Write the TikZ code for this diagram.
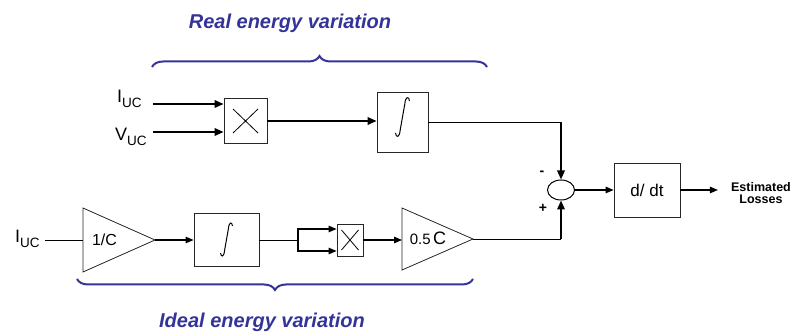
\documentclass[tikz,border=0pt]{standalone}
\usepackage{fontspec}
\setmainfont{Liberation Sans}
\usetikzlibrary{arrows.meta,decorations.pathreplacing,shapes.geometric}
\definecolor{navy}{HTML}{333399}
\newcommand{\lowsub}[1]{\raisebox{-5pt}{\fontsize{13.5}{13.5}\selectfont #1}}
\begin{document}
\begin{tikzpicture}[x=1pt,y=-1pt,
  blk/.style={draw=black!85, line width=0.8pt, fill=white, inner sep=0pt},
  thk/.style={line width=1.8pt, -{Triangle[length=9pt,width=7.5pt]}},
  med/.style={line width=1.2pt, -{Triangle[length=8pt,width=6.5pt]}},
  thn/.style={line width=0.8pt},
  lbl/.style={font=\fontsize{18}{18}\selectfont, inner sep=0pt},
  ttl/.style={font=\fontsize{20}{20}\selectfont\bfseries\itshape, text=navy, inner sep=0pt},
  brc/.style={draw=navy, line width=2pt, decorate, decoration={brace, amplitude=11pt}},
  intsign/.pic={\draw[line width=1pt] (7,-16) .. controls (6.5,-21) and (3,-21) .. (2.3,-13) -- (-2.3,13) .. controls (-3,21) and (-6.5,21) .. (-7,16);}
]
\useasboundingbox (0,0) rectangle (792,336);

% titles and braces
\node[ttl, anchor=base] (t1) at (290,29) {Real energy variation};
\node[ttl, anchor=base] (t2) at (262,328) {Ideal energy variation};
\draw[brc] (152,67) -- (487,67);
\draw[brc] (473,279) -- (77,279);

% upper chain
\node[lbl, anchor=base west] (iuc1) at (117,103) {I\lowsub{UC}};
\node[lbl, anchor=base west] (vuc1) at (115,141) {V\lowsub{UC}};
\coordinate (a1) at (153,104);
\coordinate (a2) at (153,132);
\node[blk, minimum width=43pt, minimum height=45pt] (mul1) at (245.5,121) {};
\draw[line width=0.8pt] (mul1.center) ++(-12.5,-12) -- ++(25,24) ++(0,-24) -- ++(-25,24);
\node[blk, minimum width=51pt, minimum height=60pt] (int1) at (402.5,122) {};
\pic at ([yshift=5pt]int1.center) {intsign};
\draw[thk] (a1) -- (a1 -| mul1.west);
\draw[thk] (a2) -- (a2 -| mul1.west);
\draw[thk] (mul1.east) -- (mul1.east -| int1.west);

% summing junction and output
\node[draw, line width=1pt, ellipse, minimum width=27pt, minimum height=20pt, inner sep=0pt] (sum) at (561,190) {};
\coordinate (c1) at (sum.north |- int1.east);
\draw[thn] (int1.east) -- (c1);
\draw[thk] (c1) -- (sum.north);
\node[font=\fontsize{14}{14}\selectfont\bfseries, inner sep=0pt] (minus) at (542,173) {-};
\node[font=\fontsize{14}{14}\selectfont\bfseries, inner sep=0pt] (plus) at (543,208) {+};
\node[blk, minimum width=66pt, minimum height=54pt, font=\fontsize{17}{17}\selectfont] (ddt) at (647,190) {d/ dt};
\node[font=\fontsize{12.5}{11.5}\selectfont\bfseries, align=center, inner sep=0pt] (out) at (761,193) {Estimated\\Losses};
\draw[med] (sum.east) -- (sum.east -| ddt.west);
\draw[med, shorten >=13pt] (ddt.east) -- (ddt.east -| out.west);

% lower chain
\node[lbl, anchor=base west] (iuc2) at (15,243) {I\lowsub{UC}};
\coordinate (g1in) at (83,240);
\coordinate (g1out) at (155,240);
\draw[line width=0.8pt, draw=black!85] (83,208) -- (g1out) -- (83,272) -- cycle;
\node[font=\fontsize{16}{16}\selectfont, inner sep=0pt] (g1lbl) at (104.5,240) {1/C};
\draw[thn] ([xshift=5pt]iuc2.east |- g1in) -- (g1in);
\node[blk, minimum width=65pt, minimum height=53pt] (int2) at (226.5,239.5) {};
\pic[scale=0.85] at (int2.center) {intsign};
\draw[med] (g1out) -- (g1out -| int2.west);
\coordinate (sp) at (298,240);
\node[blk, minimum width=26pt, minimum height=32pt] (mul2) at (350,240) {};
\draw[line width=0.8pt] (mul2.center) ++(-8.5,-10) -- ++(17,20) ++(0,-20) -- ++(-17,20);
\draw[thn] (int2.east |- sp) -- (sp);
\draw[med] (sp) |- ([yshift=11pt]mul2.west);
\draw[med] (sp) |- ([yshift=-11pt]mul2.west);
\coordinate (g2in) at (402,239);
\coordinate (g2out) at (473,239);
\draw[line width=0.8pt, draw=black!85] (402,208) -- (g2out) -- (402,270) -- cycle;
\node[inner sep=0pt, anchor=base] (g2lbl) at (428,245) {\fontsize{15}{15}\selectfont 0.5\,\fontsize{18}{18}\selectfont C};
\draw[med] (mul2.east) -- (mul2.east -| g2in);
\coordinate (c2) at (sum.south |- g2out);
\draw[thn] (g2out) -- (c2);
\draw[thk] (c2) -- (sum.south);
\end{tikzpicture}
\end{document}
